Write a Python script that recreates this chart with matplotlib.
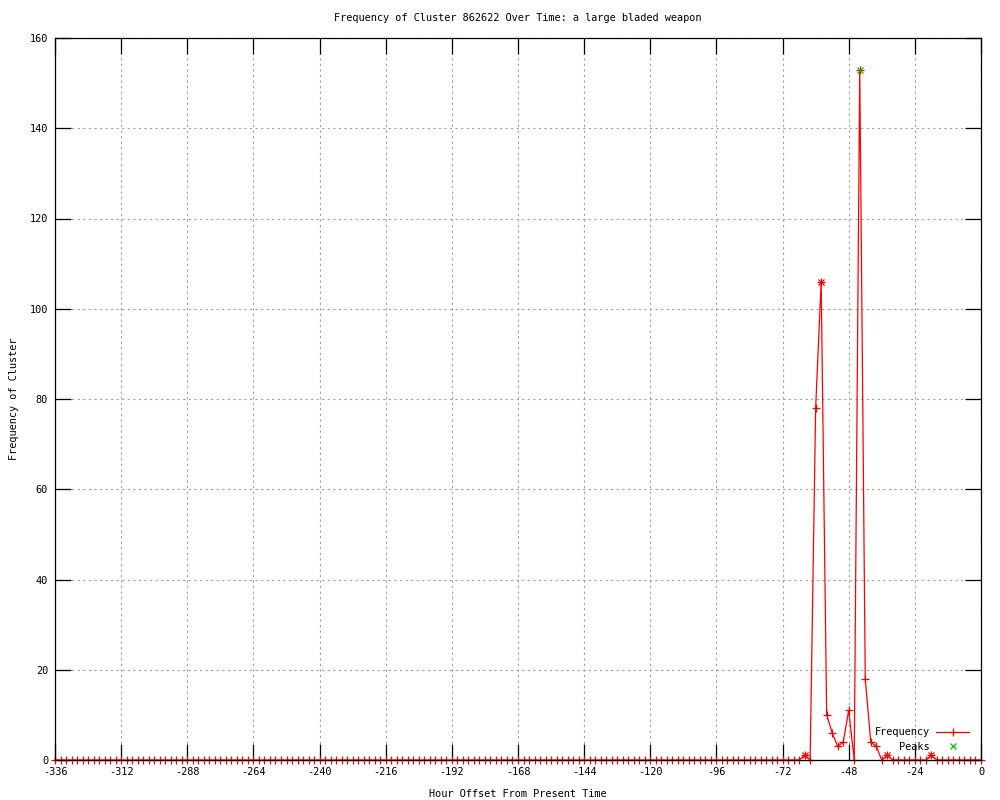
import matplotlib
matplotlib.use("Agg")
import matplotlib.pyplot as plt
import numpy as np

# ---- data ----
hours = list(range(-336, 1, 2))
nonzero = {-64: 1, -60: 78, -58: 106, -56: 10, -54: 6, -52: 3, -50: 4,
           -48: 11, -44: 153, -42: 18, -40: 4, -38: 3, -34: 1, -18: 1}
frequency = [nonzero.get(h, 0) for h in hours]
peak_hours = [-44]
peak_values = [153]
star_hours = [-64, -58, -34, -18]
star_values = [1, 106, 1, 1]
x_ticks = list(range(-336, 1, 24))
y_ticks = list(range(0, 161, 20))

title = "Frequency of Cluster 862622 Over Time: a large bladed weapon"
xlabel = "Hour Offset From Present Time"
ylabel = "Frequency of Cluster"

plt.rcParams['font.family'] = ['DejaVu Sans Mono']
plt.rcParams['axes.unicode_minus'] = False
FS = 7.4

fig = plt.figure(figsize=(10, 8), dpi=100)
ax = fig.add_axes([0.055, 0.05, 0.926, 0.9025])

ax.plot(hours, frequency, color='red', lw=0.9, marker='+', ms=5.5, mew=0.9,
        clip_on=False, label='Frequency', zorder=2)
ax.plot(star_hours, star_values, ls='none', color='red', marker='x', ms=4,
        mew=0.9, clip_on=False, zorder=2)
ax.plot(peak_hours, peak_values, ls='none', color='#00bb00', marker='x', ms=5,
        mew=0.9, label='Peaks', zorder=3)

ax.set_xlim(-336, 0)
ax.set_ylim(0, 160)
ax.set_xticks(x_ticks)
ax.set_yticks(y_ticks)
ax.tick_params(direction='in', length=11.5, width=0.9, top=True, right=True,
               labelsize=FS, pad=5, color='black')
ax.grid(True, color='#a0a0a0', ls=(0, (2, 3)), lw=0.8)
for s in ax.spines.values():
    s.set_linewidth(0.9)
    s.set_zorder(5)

ax.set_title(title, fontsize=FS, pad=12)
ax.set_xlabel(xlabel, fontsize=FS, labelpad=9)
ax.set_ylabel(ylabel, fontsize=FS, labelpad=8)

leg = ax.legend(loc='lower right', frameon=False, markerfirst=False,
                fontsize=FS, handlelength=3.2, handletextpad=0.6,
                labelspacing=0.45, borderaxespad=0.3, bbox_to_anchor=(0.995, 0.001))
for t in leg.get_texts():
    t.set_ha('right')

fig.savefig('out.png', dpi=100)
